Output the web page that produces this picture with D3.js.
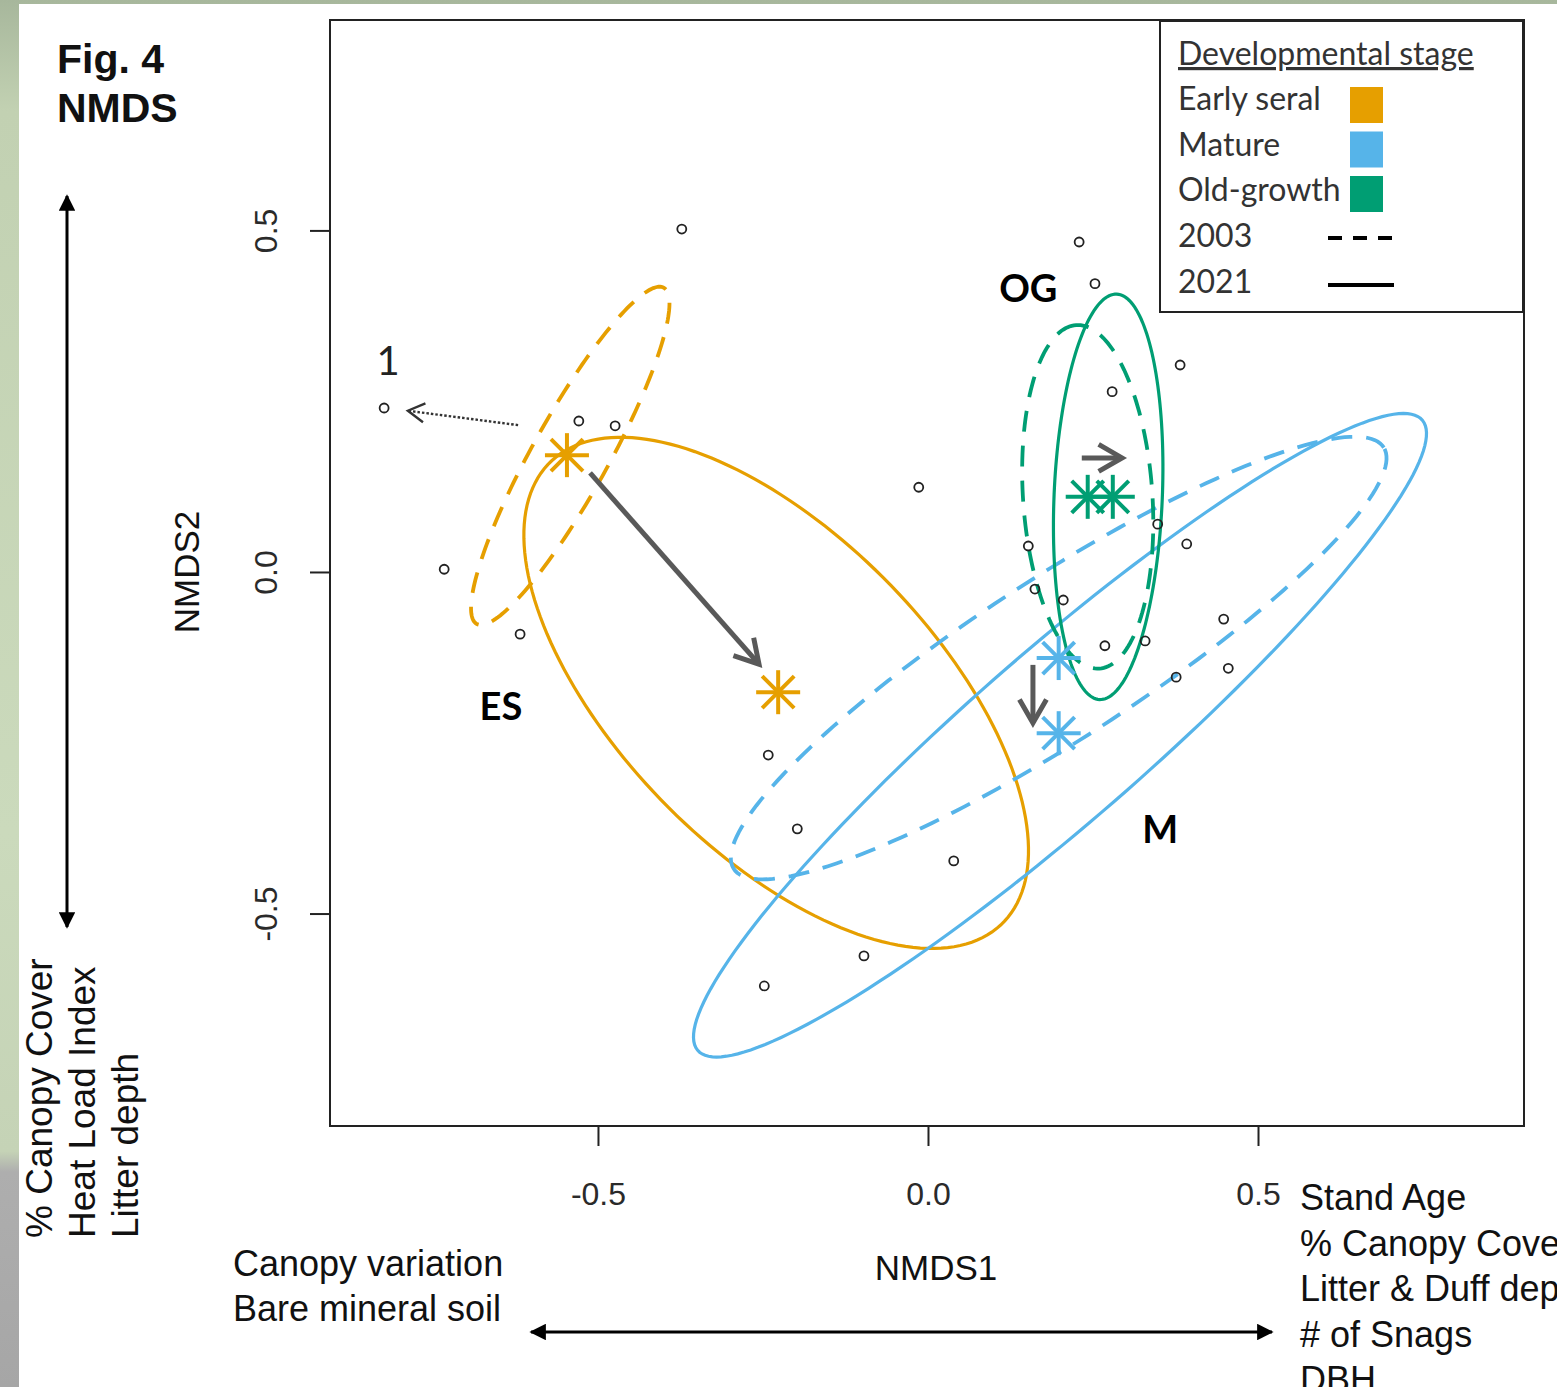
<!DOCTYPE html>
<html>
<head>
<meta charset="utf-8">
<script src="https://cdn.jsdelivr.net/npm/d3@7"></script>
<style>
  body { margin: 0; background: #fff; }
  .axis text { font-family: "Liberation Sans", Arial, sans-serif; font-size: 32px; fill: #2a2a2a; }
  .axis line { stroke: #222; stroke-width: 2px; }
  .lab { font-family: "Liberation Sans", Arial, sans-serif; fill: #111; }
  .cal { font-family: Lato, "Open Sans", sans-serif; }
</style>
</head>
<body>
<svg class="chart"></svg>
<script>
// NMDS site scores [NMDS1, NMDS2]
var sites = [
  [-0.373, 0.502], [0.229, 0.483], [0.253, 0.422], [0.382, 0.303], [0.279, 0.264],
  [-0.824, 0.240], [-0.529, 0.221], [-0.474, 0.214], [-0.014, 0.124], [0.348, 0.070],
  [0.392, 0.041], [0.152, 0.038], [0.162, -0.025], [-0.733, 0.004], [0.205, -0.041],
  [-0.618, -0.091], [0.448, -0.069], [0.268, -0.108], [0.329, -0.101], [0.455, -0.141],
  [0.376, -0.154], [-0.242, -0.268], [-0.198, -0.376], [0.039, -0.423], [-0.097, -0.562],
  [-0.248, -0.606]
];

var stages = ["Early seral", "Mature", "Old-growth"];
var stageColors = ["#E69F00", "#56B4E9", "#009E73"];
var years = ["2003", "2021"];

// group centroids
var centroids = [
  {stage: "Early seral", year: "2003", x: -0.547, y: 0.171},
  {stage: "Early seral", year: "2021", x: -0.227, y: -0.176},
  {stage: "Mature",      year: "2003", x: 0.198,  y: -0.126},
  {stage: "Mature",      year: "2021", x: 0.198,  y: -0.236},
  {stage: "Old-growth",  year: "2003", x: 0.242,  y: 0.110},
  {stage: "Old-growth",  year: "2021", x: 0.280,  y: 0.110}
];

// dispersion ellipses: centre, semi-axes, rotation (degrees)
var ellipses = [
  {stage: "Early seral", year: "2003", cx: -0.542, cy: 0.170,  a: 0.284, b: 0.057, angle: 60},
  {stage: "Early seral", year: "2021", cx: -0.230, cy: -0.177, a: 0.481, b: 0.234, angle: -44},
  {stage: "Mature",      year: "2003", cx: 0.198,  cy: -0.126, a: 0.581, b: 0.119, angle: 32},
  {stage: "Mature",      year: "2021", cx: 0.200,  cy: -0.239, a: 0.717, b: 0.127, angle: 40},
  {stage: "Old-growth",  year: "2003", cx: 0.242,  cy: 0.110,  a: 0.252, b: 0.098, angle: 94},
  {stage: "Old-growth",  year: "2021", cx: 0.273,  cy: 0.110,  a: 0.297, b: 0.082, angle: 87.5}
];

// shift arrows 2003 -> 2021
var shifts = [
  {from: [-0.512, 0.145], to: [-0.256, -0.135]},
  {from: [0.233, 0.167],  to: [0.294, 0.167]},
  {from: [0.159, -0.136], to: [0.159, -0.221]}
];
var outlierArrow = {from: [-0.621, 0.215], to: [-0.788, 0.236]};

var groupLabels = [
  {text: "ES", x: -0.647, y: -0.217},
  {text: "OG", x: 0.152,  y: 0.395},
  {text: "M",  x: 0.352,  y: -0.397}
];
var outlierLabel = {text: "1", x: -0.818, y: 0.288};

var xTicks = [-0.5, 0, 0.5],
    yTicks = [-0.5, 0, 0.5];

var leftTerms = ["% Canopy Cover", "Heat Load Index", "Litter depth"];
var bottomTerms = ["Canopy variation", "Bare mineral soil"];
var rightTerms = ["Stand Age", "% Canopy Cover", "Litter & Duff depth", "# of Snags", "DBH"];

var W = 1557, H = 1387;
var margin = {top: 20, left: 330},
    width = 1194,
    height = 1106;

var root = d3.select(".chart").attr("width", W).attr("height", H);

// background photo strip + white panel
var defs = root.append("defs");
var bg = defs.append("linearGradient").attr("id", "bg").attr("x1", 0).attr("y1", 0).attr("x2", 0).attr("y2", 1);
[[0, "#a7b79c"], [0.08, "#c2d1b2"], [0.6, "#cbdabc"], [0.83, "#c5d3b6"], [0.845, "#aeaeae"], [1, "#a6a6a6"]]
  .forEach(function(s) { bg.append("stop").attr("offset", s[0]).attr("stop-color", s[1]); });
root.append("rect").attr("width", W).attr("height", H).attr("fill", "url(#bg)");
root.append("rect").attr("x", 19).attr("y", 4).attr("width", W - 19).attr("height", H - 4).attr("fill", "#fff");

["tri"].forEach(function(id) {
  defs.append("marker").attr("id", id).attr("viewBox", "0 0 10 10").attr("refX", 9).attr("refY", 5)
    .attr("markerWidth", 5.5).attr("markerHeight", 5.5).attr("markerUnits", "strokeWidth").attr("orient", "auto-start-reverse")
    .append("path").attr("d", "M0,0L10,5L0,10z").attr("fill", "#000");
});

var svg = root.append("g").attr("transform", "translate(" + margin.left + "," + margin.top + ")");

var xScale = d3.scaleLinear().domain([-0.906, 0.903]).range([0, width]),
    yScale = d3.scaleLinear().domain([-0.811, 0.808]).range([height, 0]);
var color = d3.scaleOrdinal().domain(stages).range(stageColors);

// axes
var fmt = function(d) { return d.toFixed(1); };
svg.append("g").attr("class", "x axis").attr("transform", "translate(0," + height + ")")
  .call(d3.axisBottom(xScale).tickValues(xTicks).tickSize(20).tickPadding(36).tickFormat(fmt))
  .call(function(g) { g.select(".domain").remove(); });

svg.append("g").attr("class", "y axis")
  .call(d3.axisLeft(yScale).tickValues(yTicks).tickSize(20).tickFormat(fmt))
  .call(function(g) { g.select(".domain").remove(); })
  .selectAll("text")
    .attr("x", null).attr("dy", null)
    .attr("transform", "translate(-53,0) rotate(-90)")
    .style("text-anchor", "middle");

svg.selectAll(".axis text").attr("fill", "#2a2a2a").attr("font-size", 32);

// ellipses
var line = d3.line().curve(d3.curveLinearClosed)
  .x(function(p) { return xScale(p[0]); })
  .y(function(p) { return yScale(p[1]); });

function ellipsePts(e) {
  var t = e.angle * Math.PI / 180;
  return d3.range(0, 360, 2).map(function(deg) {
    var u = deg * Math.PI / 180, ca = e.a * Math.cos(u), sb = e.b * Math.sin(u);
    return [e.cx + ca * Math.cos(t) - sb * Math.sin(t), e.cy + ca * Math.sin(t) + sb * Math.cos(t)];
  });
}

svg.append("g").selectAll("path").data(ellipses).enter().append("path")
  .attr("d", function(e) { return line(ellipsePts(e)); })
  .attr("fill", "none")
  .attr("stroke", function(e) { return color(e.stage); })
  .attr("stroke-width", function(e) { return e.year === "2003" ? 3.8 : 3.2; })
  .attr("stroke-dasharray", function(e) { return e.year === "2003" ? "21,14" : null; });

// site points
svg.append("g").selectAll("circle").data(sites).enter().append("circle")
  .attr("cx", function(d) { return xScale(d[0]); })
  .attr("cy", function(d) { return yScale(d[1]); })
  .attr("r", 4.5)
  .attr("fill", "none").attr("stroke", "#222").attr("stroke-width", 1.8);

// centroids (asterisks)
var star = svg.append("g").selectAll("g").data(centroids).enter().append("g")
  .attr("transform", function(d) { return "translate(" + xScale(d.x) + "," + yScale(d.y) + ")"; })
  .attr("stroke", function(d) { return color(d.stage); })
  .attr("stroke-width", 4);
var r = 22, k = 16;
[[-r, 0, r, 0], [0, -r, 0, r], [-k, -k, k, k], [-k, k, k, -k]].forEach(function(s) {
  star.append("line").attr("x1", s[0]).attr("y1", s[1]).attr("x2", s[2]).attr("y2", s[3]);
});

// arrows with open heads
function arrow(g, a, len, cls) {
  var x1 = xScale(a.from[0]), y1 = yScale(a.from[1]), x2 = xScale(a.to[0]), y2 = yScale(a.to[1]);
  var ang = Math.atan2(y2 - y1, x2 - x1), sp = Math.PI / 6;
  g.append("line").attr("class", cls).attr("x1", x1).attr("y1", y1).attr("x2", x2).attr("y2", y2);
  g.append("path").attr("fill", "none")
    .attr("d", "M" + (x2 - len * Math.cos(ang - sp)) + "," + (y2 - len * Math.sin(ang - sp)) +
               "L" + x2 + "," + y2 +
               "L" + (x2 - len * Math.cos(ang + sp)) + "," + (y2 - len * Math.sin(ang + sp)));
}
var shiftG = svg.append("g").attr("stroke", "#595959").attr("stroke-width", 5).attr("stroke-linecap", "butt");
shifts.forEach(function(a) { arrow(shiftG, a, 27, "shift"); });

var outG = svg.append("g").attr("stroke", "#333").attr("stroke-width", 2.4);
arrow(outG, outlierArrow, 19, "dot");
outG.select("line").attr("stroke-dasharray", "2.5,2");

// labels inside the plot
svg.append("g").selectAll("text").data(groupLabels).enter().append("text")
  .attr("class", "cal")
  .attr("x", function(d) { return xScale(d.x); })
  .attr("y", function(d) { return yScale(d.y); })
  .attr("text-anchor", "middle").attr("font-weight", "bold").attr("font-size", 38).attr("fill", "#000")
  .text(function(d) { return d.text; });
svg.append("text").attr("class", "cal")
  .attr("x", xScale(outlierLabel.x)).attr("y", yScale(outlierLabel.y))
  .attr("text-anchor", "middle").attr("font-size", 40).attr("fill", "#222")
  .text(outlierLabel.text);

// plot frame
svg.append("rect").attr("width", width).attr("height", height)
  .attr("fill", "none").attr("stroke", "#222").attr("stroke-width", 2);

// legend
var lg = root.append("g").attr("transform", "translate(1160,21)");
lg.append("rect").attr("width", 363).attr("height", 291).attr("fill", "#fff").attr("stroke", "#222").attr("stroke-width", 2);
lg.append("text").attr("class", "cal").attr("x", 18).attr("y", 44).attr("font-size", 32).attr("fill", "#333")
  .attr("text-decoration", "underline").text("Developmental stage");
var items = stages.concat(years);
lg.selectAll(".item").data(items).enter().append("text").attr("class", "cal item")
  .attr("x", 18).attr("y", function(d, i) { return 89 + i * 45.7; })
  .attr("font-size", 32).attr("fill", "#333").text(function(d) { return d; });
lg.selectAll(".sw").data(stages).enter().append("rect").attr("class", "sw")
  .attr("x", 190).attr("y", function(d, i) { return 66 + i * 44.5; })
  .attr("width", 33).attr("height", 36).attr("fill", function(d) { return color(d); });
lg.selectAll(".ln").data(years).enter().append("line").attr("class", "ln")
  .attr("x1", 168).attr("x2", 234)
  .attr("y1", function(d, i) { return 217 + i * 47; }).attr("y2", function(d, i) { return 217 + i * 47; })
  .attr("stroke", "#000").attr("stroke-width", 4)
  .attr("stroke-dasharray", function(d) { return d === "2003" ? "14,11" : null; });

// titles and axis names
root.append("text").attr("class", "lab").attr("x", 57).attr("y", 73).attr("font-size", 41).attr("font-weight", "bold").attr("fill", "#000").text("Fig. 4");
root.append("text").attr("class", "lab").attr("x", 57).attr("y", 122).attr("font-size", 41).attr("font-weight", "bold").attr("fill", "#000").text("NMDS");

root.append("text").attr("class", "lab").attr("transform", "translate(199,572) rotate(-90)")
  .attr("text-anchor", "middle").attr("font-size", 35).attr("fill", "#444").text("NMDS2");
root.append("text").attr("class", "lab").attr("x", 936).attr("y", 1280)
  .attr("text-anchor", "middle").attr("font-size", 35).attr("fill", "#444").text("NMDS1");

// environmental gradients
root.selectAll(".lt").data(leftTerms).enter().append("text").attr("class", "lab lt")
  .attr("transform", function(d, i) { return "translate(" + (52 + i * 43) + ",1238) rotate(-90)"; })
  .attr("font-size", 37).text(function(d) { return d; });
root.selectAll(".bt").data(bottomTerms).enter().append("text").attr("class", "lab bt")
  .attr("x", 233).attr("y", function(d, i) { return 1276 + i * 45; })
  .attr("font-size", 36).text(function(d) { return d; });
root.selectAll(".rt").data(rightTerms).enter().append("text").attr("class", "lab rt")
  .attr("x", 1300).attr("y", function(d, i) { return 1210 + i * 45.5; })
  .attr("font-size", 36).text(function(d) { return d; });

root.append("line").attr("x1", 67).attr("x2", 67).attr("y1", 196).attr("y2", 927)
  .attr("stroke", "#000").attr("stroke-width", 3)
  .attr("marker-start", "url(#tri)").attr("marker-end", "url(#tri)");
root.append("line").attr("x1", 531).attr("x2", 1272).attr("y1", 1332).attr("y2", 1332)
  .attr("stroke", "#000").attr("stroke-width", 3)
  .attr("marker-start", "url(#tri)").attr("marker-end", "url(#tri)");
</script>
</body>
</html>
